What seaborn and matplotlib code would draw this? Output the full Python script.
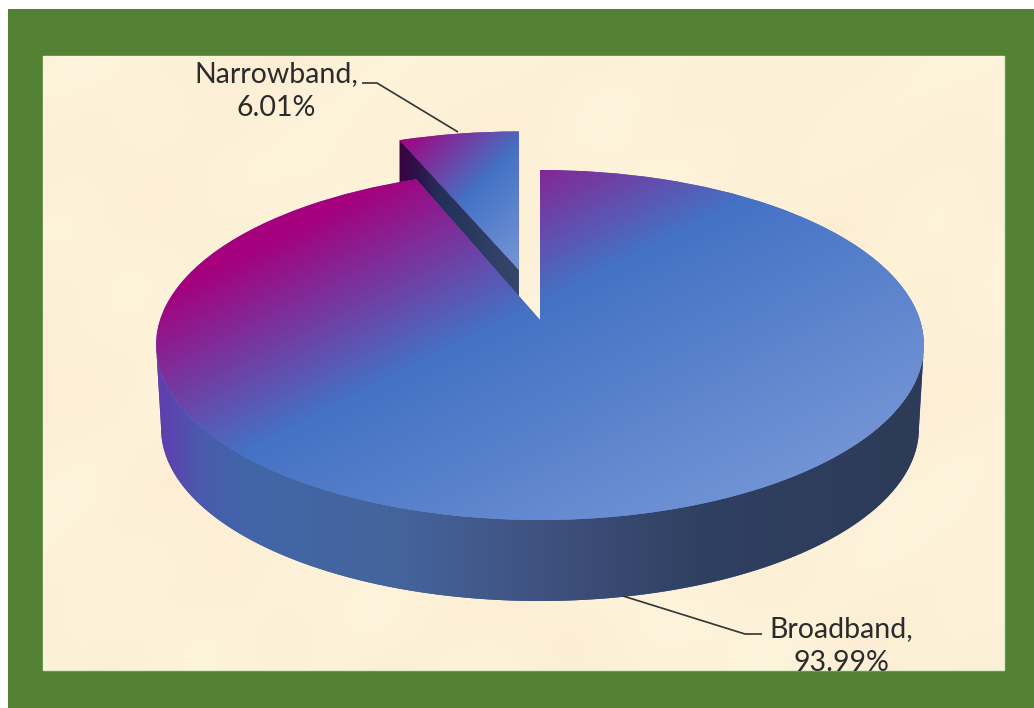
import numpy as np
import matplotlib
matplotlib.use("Agg")
import matplotlib.pyplot as plt
import seaborn as sns
from matplotlib.patches import Rectangle, Polygon
from matplotlib.transforms import Transform
from matplotlib.colors import to_rgb

# ---- data ----
categories = ["Broadband", "Narrowband"]
shares = [93.99, 6.01]
explode = [0.0, 0.31]
value_labels = ["93.99%", "6.01%"]

# ---- styles ----
GREEN = "#548235"
CREAM = (253 / 255, 241 / 255, 216 / 255)
TEXT = "#2b2b2b"
top_stops = [(335, "#a5007d"), (512, "#4472c4"), (800, "#7596d6")]
narrow_stops = [(376, "#a5007d"), (465, "#4472c4"), (550, "#7596d6")]
wall_stops = [(163, "#5f3fb0"), (200, "#4a5aad"), (250, "#4266a8"), (400, "#44649b"), (540, "#3f5280"),
              (700, "#304061"), (920, "#2d3b58")]
cut_stops = [(398, "#3d0040"), (415, "#2e1048"), (440, "#24305a"), (518, "#36476b")]

sns.set_theme(style="white")
plt.rcParams["font.family"] = ["Lato", "DejaVu Sans"]

fig = plt.figure(figsize=(10.34, 7.08), dpi=100, facecolor="white")
ax = fig.add_axes([0, 0, 1, 1])


class Perspective(Transform):
    """Projects the unit pie plane on to the picture, in pixels."""
    input_dims = output_dims = 2
    has_inverse = False
    is_separable = False

    def __init__(self, cy, width=380.0, height=171.43, k=1 / 7, cx=540.0, center=(0.0, 0.0)):
        super().__init__()
        self.cx, self.cy, self.width, self.height, self.k = cx, cy, width, height, k
        self.u0, self.v0 = center

    def transform_non_affine(self, values):
        values = np.asarray(values, dtype=float)
        u, v = values[:, 0], values[:, 1]
        w = 1 + self.k * v
        x = self.cx + self.width * (u - self.u0) / w + self.width * self.u0 / (1 + self.k * self.v0)
        y = self.cy - self.height * v / w
        return np.column_stack([x, y])


def ramp(t, stops):
    pos = [s[0] for s in stops]
    rgb = np.array([to_rgb(s[1]) for s in stops])
    return np.dstack([np.interp(t, pos, rgb[:, i]) for i in range(3)])


def paint(rgb, box, clip, z):
    x0, x1, y0, y1 = box
    im = ax.imshow(rgb, extent=(x0, x1, y1, y0), origin="upper", aspect="auto",
                   interpolation="bilinear", zorder=z)
    im.set_clip_path(clip)
    return im


def grid(box):
    x0, x1, y0, y1 = box
    return np.meshgrid(np.arange(x0, x1) + 0.5, np.arange(y0, y1) + 0.5)


# frame and paper
W, H = 1034, 708
PANEL = (43, 56, 961, 614)
XX, YY = np.meshgrid(np.arange(PANEL[2]) + .5, np.arange(PANEL[3]) + .5)
mottle = (np.sin(XX / 47 + np.sin(YY / 61) * 2) + np.sin(YY / 37 + np.cos(XX / 71) * 2)
          + 0.6 * np.sin((XX + YY) / 23)) * 0.0035
paper = np.clip(np.dstack([CREAM[0] + mottle * 0.3, CREAM[1] + mottle, CREAM[2] + mottle * 1.6]), 0, 1)

wedges, _ = ax.pie(shares, explode=explode, startangle=90, counterclock=False, radius=1.0,
                   colors=["#4472c4", "#7a2f9a"], wedgeprops={"linewidth": 0, "edgecolor": "none"})
broad, narrow = wedges

ax.set_aspect("auto")
ax.add_patch(Rectangle((8, 9), W - 8, H - 9, facecolor=GREEN, edgecolor="none", zorder=0))
panel = Rectangle(PANEL[:2], PANEL[2], PANEL[3], facecolor=CREAM, edgecolor="#d9e8c4", linewidth=1.0, zorder=1)
ax.add_patch(panel)
ax.imshow(paper, extent=(43, 1004, 670, 56), origin="upper", aspect="auto", interpolation="bilinear", zorder=1.1)

# projections
top = Perspective(320.0)
bottom = Perspective(403.6, width=375.0, height=169.2)
top_narrow = Perspective(320.0, center=narrow.center)
bottom_narrow = Perspective(403.6, center=narrow.center)


def arc(theta1, theta2, center=(0, 0), n=240):
    a = np.radians(np.linspace(theta1, theta2, n))
    return np.column_stack([center[0] + np.cos(a), center[1] + np.sin(a)])


# narrowband: cut face, then top
ends = arc(narrow.theta1, narrow.theta2, narrow.center, n=2)
far = ends[[np.argmin(ends[:, 0])]]
tip = np.array([list(narrow.center)])
cut_pts = np.vstack([top_narrow.transform(far), top_narrow.transform(tip),
                     bottom_narrow.transform(tip), bottom_narrow.transform(far)])
cut = Polygon(cut_pts, closed=True, facecolor="#24345a", edgecolor="none", zorder=2)
ax.add_patch(cut)
box = (380, 540, 120, 360)
X, Y = grid(box)
paint(ramp(X, cut_stops), box, cut, 2.1)

narrow.set_transform(top_narrow + ax.transData)
narrow.set_zorder(3)
box = (380, 540, 120, 300)
X, Y = grid(box)
paint(ramp(0.7 * X + 0.7 * Y, narrow_stops), box, narrow, 3.1)

# broadband: outer wall, then top
k = top.k
start = 180 + np.degrees(np.arcsin(k))
stop = 360 - np.degrees(np.arcsin(k))
front = arc(start, stop)
wall_pts = np.vstack([top.transform(front), bottom.transform(front[::-1])])
wall = Polygon(wall_pts, closed=True, facecolor="#3f5280", edgecolor="none", zorder=4)
ax.add_patch(wall)
box = (150, 935, 330, 610)
X, Y = grid(box)
paint(ramp(X, wall_stops), box, wall, 4.1)

broad.set_transform(top + ax.transData)
broad.set_zorder(5)
box = (150, 935, 160, 530)
X, Y = grid(box)
paint(ramp(0.45 * X + 0.89 * Y, top_stops), box, broad, 5.1)

# leader lines and labels
clip_rect = Rectangle(PANEL[:2], PANEL[2], PANEL[3], transform=ax.transData)
ax.plot([362, 377, 458], [83, 83, 132], color="#333333", lw=1.2, zorder=6, solid_capstyle="butt")
ax.plot([623, 745, 762], [596, 634, 634], color="#333333", lw=1.2, zorder=6, solid_capstyle="butt")

label_pos = {"Narrowband": (276, 91), "Broadband": (841, 646)}
for name, val in zip(categories, value_labels):
    x, y = label_pos[name]
    txt = ax.text(x, y, f"{name},\n{val}", ha="center", va="center", fontsize=20.5, color=TEXT,
                  linespacing=1.42, zorder=7)
    txt.set_clip_path(clip_rect)

ax.set_xlim(0, W)
ax.set_ylim(H, 0)
ax.axis("off")
fig.savefig("out.png", dpi=100, facecolor="white")
